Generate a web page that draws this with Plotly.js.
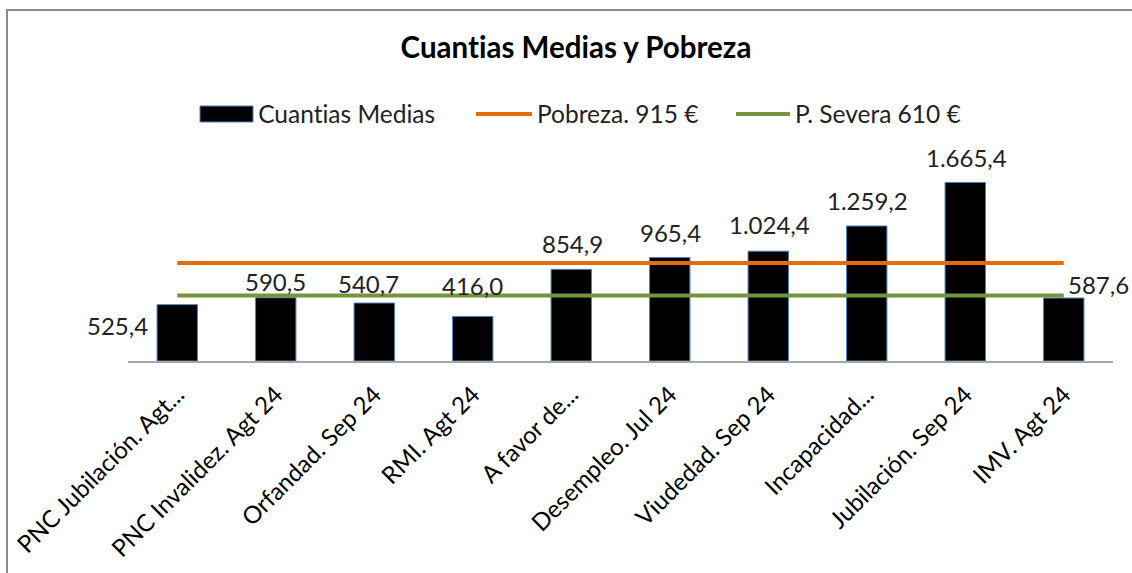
<!DOCTYPE html>
<html>
<head>
<meta charset="utf-8">
<script src="https://cdn.plot.ly/plotly-3.0.1.min.js"></script>
<style>
  html, body { margin: 0; padding: 0; background: #ffffff; overflow: hidden; }
  #chart { position: absolute; left: 0; top: 0; width: 1132px; height: 573px; }
  #chart text { font-variant-ligatures: none; font-feature-settings: "liga" 0, "clig" 0; }
  #frame { position: absolute; left: 6px; top: 9px; width: 1300px; height: 700px;
           border: 2px solid #8a8a8a; pointer-events: none; box-sizing: border-box; }
</style>
</head>
<body>
<div id="chart"></div>
<div id="frame"></div>
<script>
// ---- data ----
const categories = ["PNC Jubilación. Agt...", "PNC Invalidez. Agt 24", "Orfandad. Sep 24", "RMI. Agt 24",
                    "A favor de...", "Desempleo. Jul 24", "Viudedad. Sep 24", "Incapacidad...",
                    "Jubilación. Sep 24", "IMV. Agt 24"];
const cuantiasMedias = [525.4, 590.5, 540.7, 416.0, 854.9, 965.4, 1024.4, 1259.2, 1665.4, 587.6];
const pobreza = [915, 915, 915, 915, 915, 915, 915, 915, 915, 915];
const pobrezaSevera = [610, 610, 610, 610, 610, 610, 610, 610, 610, 610];
const seriesNames = ["Cuantias Medias", "Pobreza. 915 €", "P. Severa 610 €"];
const chartTitle = "Cuantias Medias y Pobreza";

// ---- styling ----
const W = 1132, H = 573;
const M = { l: 128, r: 19, t: 168, b: 212 };
const PW = W - M.l - M.r, PH = H - M.t - M.b;
const FONT = "Lato, 'Open Sans', sans-serif";
const ORANGE = "#E46C0A", GREEN = "#77933C", BAR_EDGE = "#4F81BD";
// data label offsets (pixels) relative to the top of each bar
const labelDx = [-60, 0, -6, 0, 1, 1, 1, 1, 1, 35];
const labelDy = [-21, 16, 20, 31, 26, 25, 27, 25, 25, 14];

function fmt(v) {
  const s = v.toFixed(1).split(".");
  return s[0].replace(/\B(?=(\d{3})+(?!\d))/g, ".") + "," + s[1];
}
const px = x => (x - M.l) / PW;
const py = y => (H - M.b - y) / PH;

const traces = [
  { type: "bar", x: categories, y: cuantiasMedias, name: seriesNames[0],
    marker: { color: "#000000", line: { color: BAR_EDGE, width: 1 } }, hoverinfo: "skip" },
  { type: "scatter", mode: "lines", x: categories, y: pobreza, name: seriesNames[1],
    line: { color: ORANGE, width: 4 }, hoverinfo: "skip" },
  { type: "scatter", mode: "lines", x: categories, y: pobrezaSevera, name: seriesNames[2],
    line: { color: GREEN, width: 4 }, hoverinfo: "skip" }
];

const annotations = cuantiasMedias.map((v, i) => ({
  x: categories[i], y: v, xref: "x", yref: "y", text: fmt(v), showarrow: false,
  xanchor: "center", yanchor: "middle", xshift: labelDx[i], yshift: labelDy[i],
  font: { family: FONT, size: 24, color: "#222222" }
}));

// legend (manual, Excel style)
const legendY = 114;
const legendItems = [
  { kind: "rect", x0: 200, x1: 253, tx: 256 },
  { kind: "line", x0: 476, x1: 532, tx: 535, color: ORANGE },
  { kind: "line", x0: 736, x1: 790, tx: 793, color: GREEN }
];
const shapes = [];
legendItems.forEach((it, i) => {
  if (it.kind === "rect") {
    shapes.push({ type: "rect", xref: "paper", yref: "paper",
      x0: px(it.x0), x1: px(it.x1), y0: py(legendY + 8), y1: py(legendY - 8),
      fillcolor: "#000000", line: { color: BAR_EDGE, width: 1 } });
  } else {
    shapes.push({ type: "line", xref: "paper", yref: "paper",
      x0: px(it.x0), x1: px(it.x1), y0: py(legendY), y1: py(legendY),
      line: { color: it.color, width: 4 } });
  }
  annotations.push({ xref: "paper", yref: "paper", x: px(it.tx), y: py(legendY),
    xanchor: "left", yanchor: "middle", showarrow: false, text: seriesNames[i],
    font: { family: FONT, size: 24.5, color: "#222222" } });
});

const layout = {
  width: W, height: H,
  margin: M,
  paper_bgcolor: "#ffffff", plot_bgcolor: "#ffffff",
  showlegend: false,
  bargap: 0.59,
  title: { text: "<b>" + chartTitle + "</b>", font: { family: FONT, size: 29.5, color: "#000000" },
           x: 576 / W, xref: "container", xanchor: "center",
           y: 1 - 48 / H, yref: "container", yanchor: "middle" },
  xaxis: { type: "category", range: [-0.5, categories.length - 0.5], autorange: false,
           automargin: false, showline: true, linecolor: "#a6a6a6", linewidth: 2,
           ticks: "", showgrid: false, zeroline: false, tickangle: -45, ticklabelstandoff: 8,
           tickfont: { family: FONT, size: 24, color: "#000000" } },
  yaxis: { range: [0, 1800], autorange: false, automargin: false, visible: false,
           showgrid: false, zeroline: false },
  annotations: annotations,
  shapes: shapes
};

Plotly.newPlot("chart", traces, layout, { staticPlot: true, displayModeBar: false });
</script>
</body>
</html>
